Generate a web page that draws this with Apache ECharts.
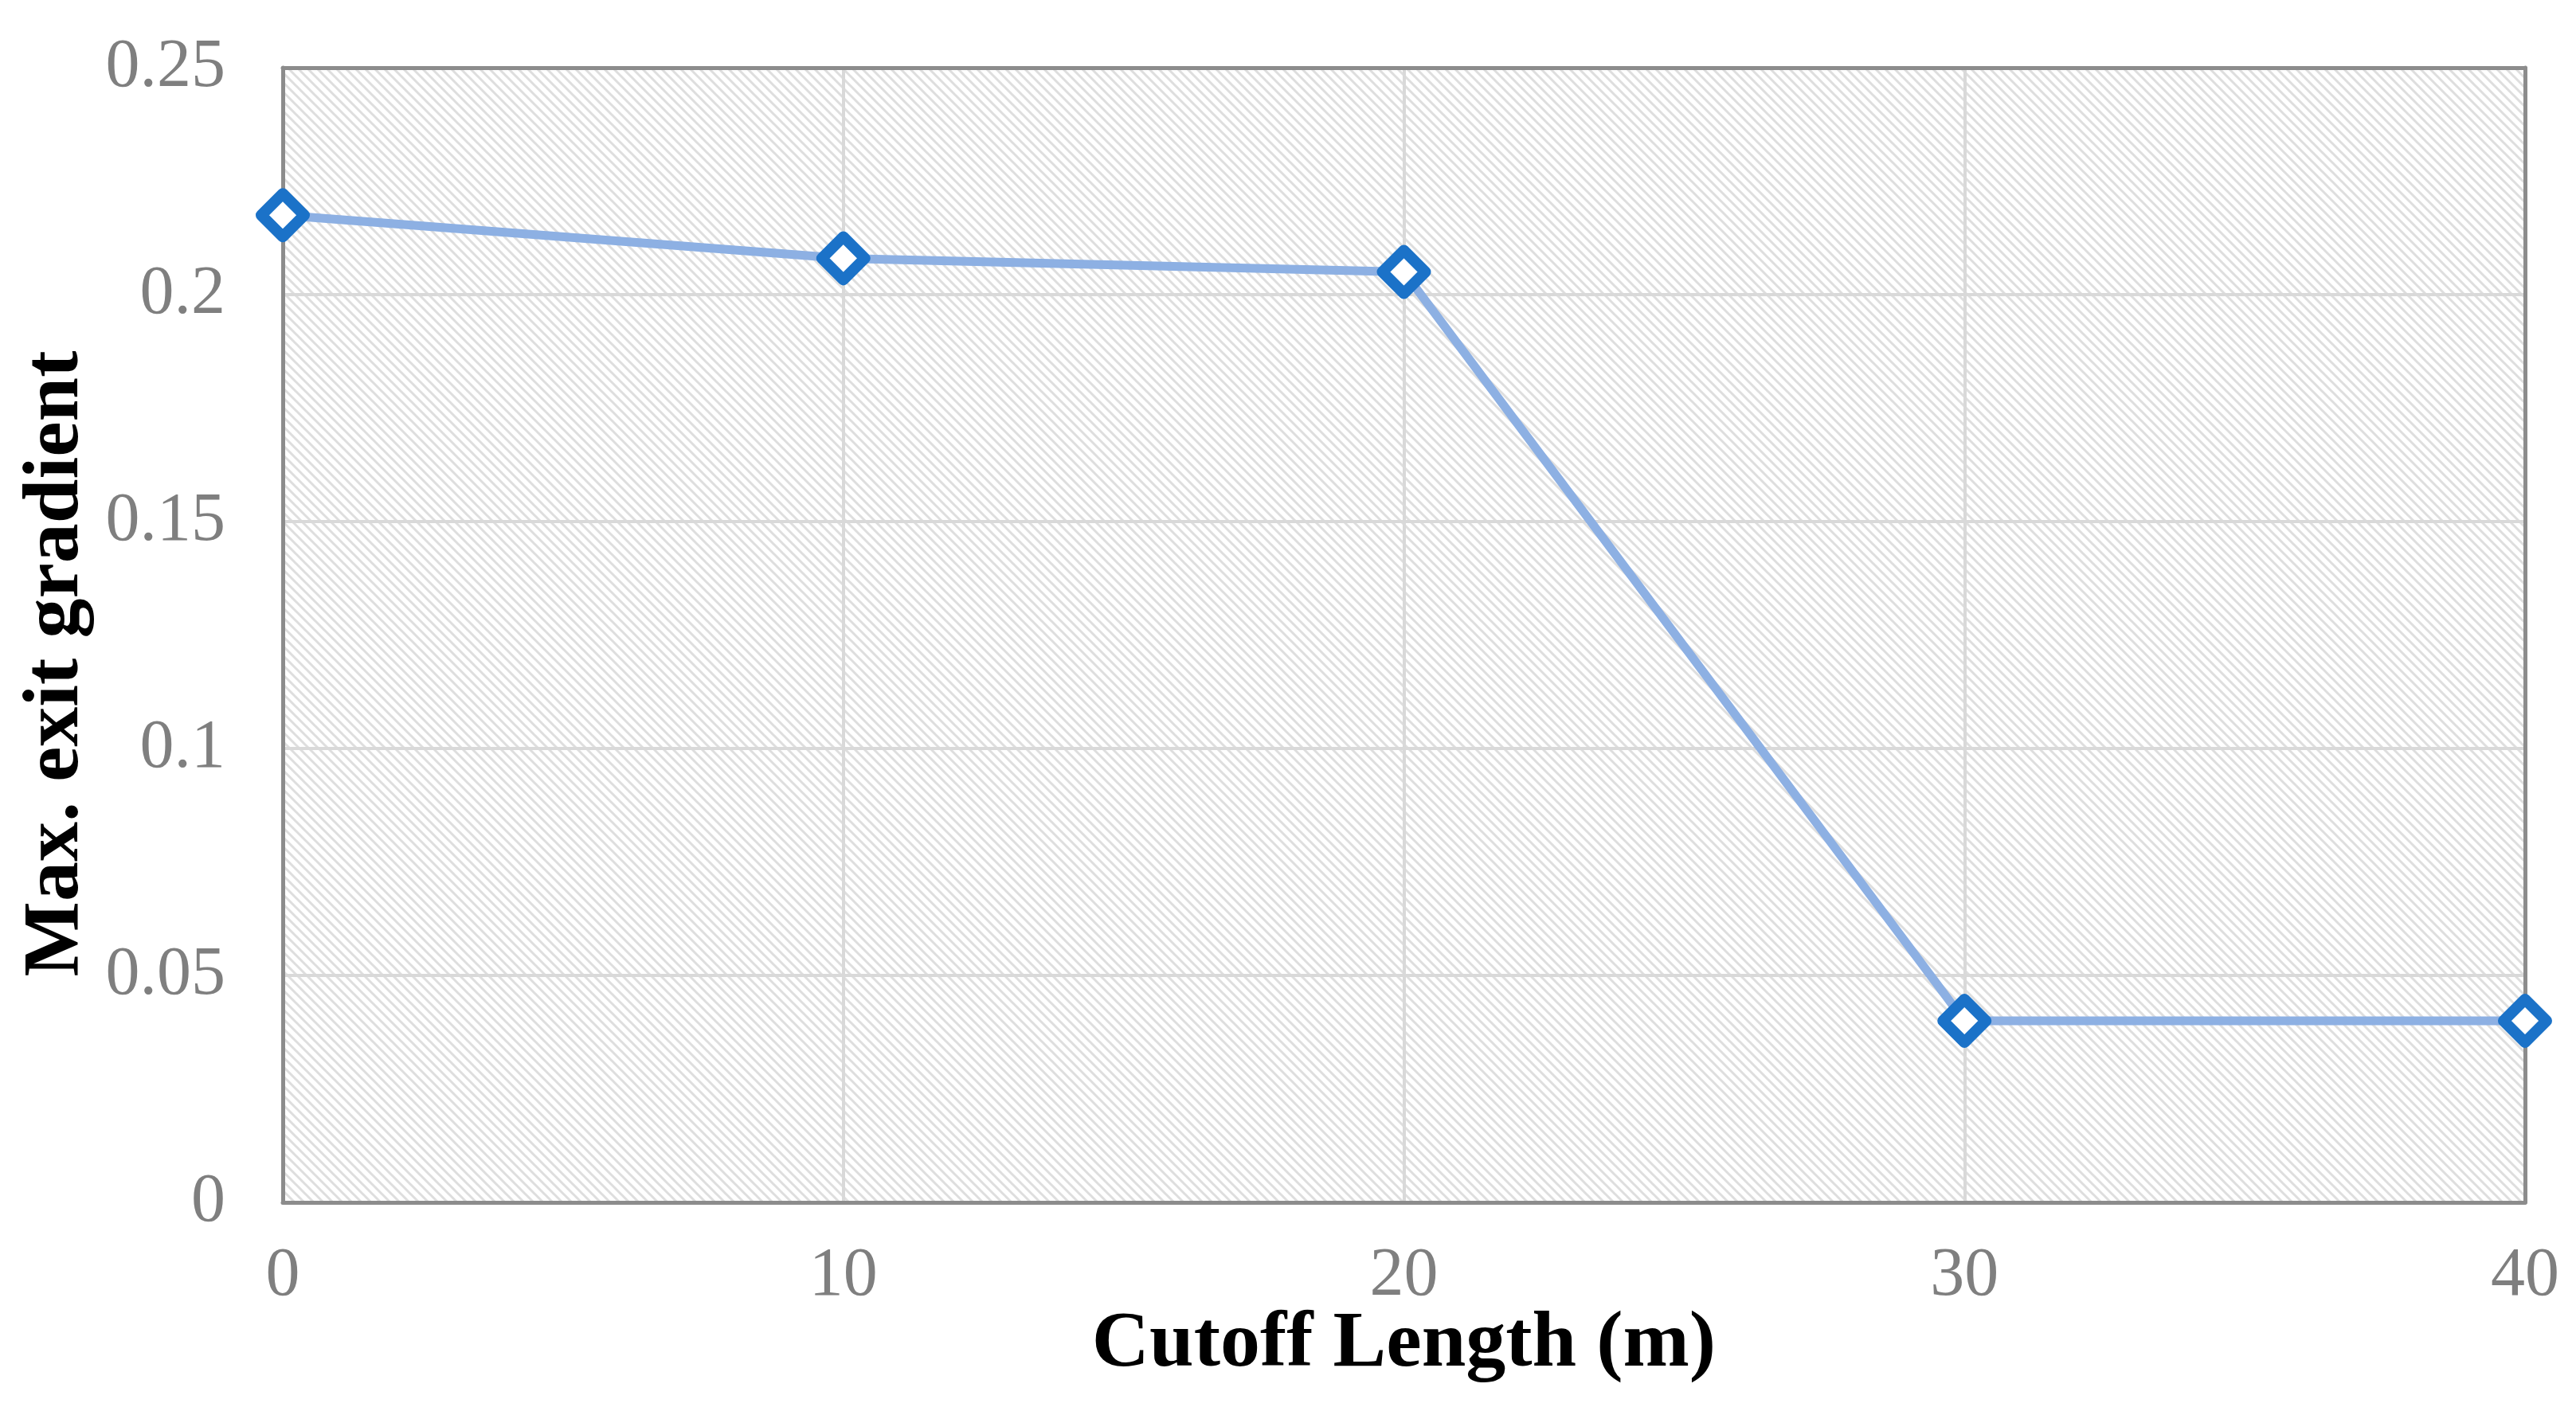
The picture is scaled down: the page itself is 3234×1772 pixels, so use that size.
<!DOCTYPE html>
<html>
<head>
<meta charset="utf-8">
<script src="https://cdn.jsdelivr.net/npm/echarts@6/dist/echarts.min.js"></script>
<style>
  html, body { margin: 0; padding: 0; background: #fff; }
  #chart { width: 3234px; height: 1772px; }
</style>
</head>
<body>
<div id="chart"></div>
<script>
// datos
var cutoffLengths = [0, 10, 20, 30, 40];
var exitGradient = [0.2175, 0.208, 0.205, 0.04, 0.04];
var yTicks = { min: 0, max: 0.25, interval: 0.05 };
var xTicks = { min: 0, max: 40, interval: 10 };

// trama diagonal del fondo
function hatchPattern() {
    var c = document.createElement('canvas');
    var s = 12;
    c.width = s;
    c.height = s;
    var ctx = c.getContext('2d');
    ctx.fillStyle = '#ffffff';
    ctx.fillRect(0, 0, s, s);
    ctx.strokeStyle = '#dedede';
    ctx.lineWidth = 3;
    ctx.beginPath();
    ctx.moveTo(-2, -2); ctx.lineTo(s + 2, s + 2);
    ctx.moveTo(-2, s - 2); ctx.lineTo(2, s + 2);
    ctx.moveTo(s - 2, -2); ctx.lineTo(s + 2, 2);
    ctx.stroke();
    return c;
}

var dom = document.getElementById('chart');
var myChart = echarts.init(dom, null, { renderer: 'canvas' });

var FONT = 'Liberation Serif';
var BORDE = { show: true, onZero: false, lineStyle: { color: '#8c8c8c', width: 5 } };

// eje "marco" solo para dibujar el borde superior / derecho
function marco(pos, t) {
    return {
        type: 'value', position: pos, min: t.min, max: t.max, interval: t.interval, z: 3,
        axisLine: BORDE, axisTick: { show: false }, axisLabel: { show: false }, splitLine: { show: false }
    };
}

var option = {
    animation: false,
    backgroundColor: '#ffffff',
    grid: {
        left: 355,
        right: 64,
        top: 85,
        bottom: 262,
        show: true,
        backgroundColor: { image: hatchPattern(), repeat: 'repeat' },
        borderWidth: 0
    },
    xAxis: [{
        type: 'value',
        min: xTicks.min,
        max: xTicks.max,
        interval: xTicks.interval,
        z: 3,
        name: 'Cutoff Length (m)',
        nameLocation: 'middle',
        nameGap: 129,
        nameMoveOverlap: false,
        nameTextStyle: { fontFamily: FONT, fontWeight: 'bold', fontSize: 100, color: '#000' },
        axisLine: BORDE,
        axisTick: { show: false },
        axisLabel: { fontFamily: FONT, fontSize: 86, color: '#7f7f7f', margin: 50 },
        splitLine: { lineStyle: { color: '#d9d9d9', width: 4 } }
    }, marco('top', xTicks)],
    yAxis: [{
        type: 'value',
        min: yTicks.min,
        max: yTicks.max,
        interval: yTicks.interval,
        z: 3,
        name: 'Max. exit gradient',
        nameLocation: 'middle',
        nameGap: 233,
        nameTextStyle: { fontFamily: FONT, fontWeight: 'bold', fontSize: 100, color: '#000', padding: [0, 72, 0, 0] },
        axisLine: BORDE,
        axisTick: { show: false },
        axisLabel: { fontFamily: FONT, fontSize: 86, color: '#7f7f7f', margin: 72 },
        splitLine: { lineStyle: { color: '#d9d9d9', width: 4 } }
    }, marco('right', yTicks)],
    series: [
        {
            type: 'line',
            data: cutoffLengths.map(function (x, i) { return [x, exitGradient[i]]; }),
            symbol: 'diamond',
            symbolSize: 54,
            showAllSymbol: true,
            clip: false,
            z: 5,
            lineStyle: { color: '#8db0e3', width: 11 },
            itemStyle: { color: '#ffffff', borderColor: '#1b72c8', borderWidth: 14, borderJoin: 'round' }
        }
    ]
};

myChart.setOption(option);
window.addEventListener('resize', myChart.resize);
</script>
</body>
</html>
